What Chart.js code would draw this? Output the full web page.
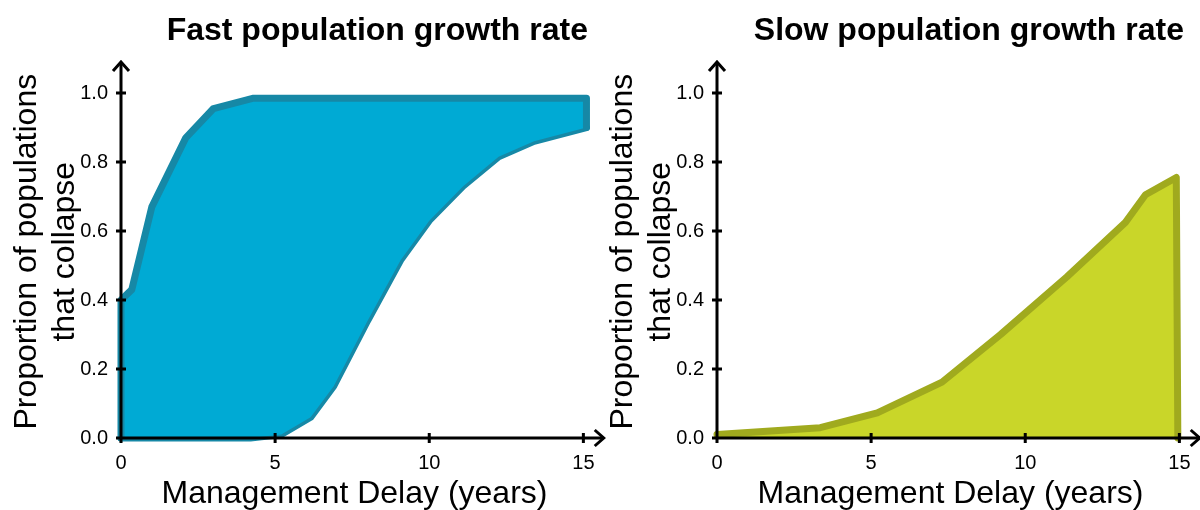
<!DOCTYPE html>
<html>
<head>
<meta charset="utf-8">
<script src="https://cdn.jsdelivr.net/npm/chart.js@4"></script>
<style>
  html, body { margin: 0; padding: 0; background: #fff; overflow: hidden; }
  #wrap { position: relative; width: 1200px; height: 510px; }
  canvas { position: absolute; top: 0; }
  #fastChart { left: 0; }
  #slowChart { left: 596px; }
</style>
</head>
<body>
<div id="wrap">
  <canvas id="fastChart" width="610" height="510"></canvas>
  <canvas id="slowChart" width="610" height="510"></canvas>
</div>
<script>
// management delay (years) / proportion of populations that collapse
const fastUpperX = [0, 0, 0.35, 1.0, 2.1, 3.0, 4.3, 15.1, 15.1]
const fastUpperY = [0, 0.40, 0.43, 0.67, 0.87, 0.955, 0.985, 0.985, 0.9]
const fastLowerX = [0, 4.2, 5.2, 6.15, 6.9, 8.0, 9.07, 10.0, 11.1, 12.25, 13.4, 15.1]
const fastLowerY = [0, 0, 0.01, 0.06, 0.15, 0.34, 0.515, 0.63, 0.73, 0.815, 0.86, 0.9]

const slowX = [0, 3.35, 5.2, 7.3, 9.2, 11.35, 13.25, 13.9, 14.9, 14.95]
const slowY = [0.01, 0.03, 0.073, 0.162, 0.30, 0.467, 0.625, 0.705, 0.755, 0]

const xTicks = [0, 5, 10, 15]
const yTicks = [0, 0.2, 0.4, 0.6, 0.8, 1.0]

const FONT = "'Liberation Sans', Arial, Helvetica, sans-serif"
const pts = (xs, ys) => xs.map((x, i) => ({x: x, y: ys[i]}))

// black axes with arrow heads and ticks that cross the axis line
const arrowAxes = {
    id: 'arrowAxes',
    afterDatasetsDraw(chart) {
        const {ctx} = chart
        const {x, y} = chart.scales
        const x0 = x.getPixelForValue(0), y0 = y.getPixelForValue(0)
        const xEnd = x.getPixelForValue(15.66), yEnd = y.getPixelForValue(1.09)
        ctx.save()
        ctx.strokeStyle = '#000'
        ctx.lineWidth = 3
        ctx.beginPath()
        ctx.moveTo(x0, yEnd)
        ctx.lineTo(x0, y0)
        ctx.lineTo(xEnd, y0)
        xTicks.forEach(v => {
            const p = x.getPixelForValue(v)
            ctx.moveTo(p, y0 - 5)
            ctx.lineTo(p, y0 + 5)
        })
        yTicks.forEach(v => {
            const p = y.getPixelForValue(v)
            ctx.moveTo(x0 - 5, p)
            ctx.lineTo(x0 + 5, p)
        })
        ctx.stroke()
        ctx.beginPath()
        ctx.moveTo(x0 - 8, yEnd + 9)
        ctx.lineTo(x0, yEnd)
        ctx.lineTo(x0 + 8, yEnd + 9)
        ctx.moveTo(xEnd - 9, y0 - 8)
        ctx.lineTo(xEnd, y0)
        ctx.lineTo(xEnd - 9, y0 + 8)
        ctx.stroke()
        ctx.restore()
    }
}

function makeChart(id, title, datasets) {
    return new Chart(document.getElementById(id), {
        type: 'scatter',
        data: {datasets: datasets},
        options: {
            responsive: false,
            animation: false,
            layout: {padding: {right: 22}},
            elements: {point: {radius: 0, hoverRadius: 0}},
            plugins: {
                legend: {display: false},
                tooltip: {enabled: false},
                title: {
                    display: true,
                    text: title,
                    align: 'end',
                    fullSize: false,
                    color: '#000',
                    font: {family: FONT, size: 32, weight: 'bold', lineHeight: 1.2},
                    padding: {top: 12, bottom: 15}
                }
            },
            scales: {
                x: {
                    type: 'linear',
                    min: 0,
                    max: 15.15,
                    afterBuildTicks: s => { s.ticks = xTicks.map(v => ({value: v})) },
                    afterFit: s => { s.height = 72 },
                    // invisible tick marks, only used to push the labels down
                    grid: {display: true, drawOnChartArea: false, drawTicks: true, tickLength: 10, color: 'rgba(0,0,0,0)'},
                    border: {display: false},
                    ticks: {color: '#000', padding: 3, font: {family: FONT, size: 20}, maxRotation: 0,
                        callback: v => String(v)},
                    title: {display: true, text: 'Management Delay (years)', color: '#000',
                        font: {family: FONT, size: 32, lineHeight: 1.0}, padding: {top: 0, bottom: 0}}
                },
                y: {
                    type: 'linear',
                    min: 0,
                    max: 1.08,
                    afterBuildTicks: s => { s.ticks = yTicks.map(v => ({value: v})) },
                    afterFit: s => { s.width = 121 },
                    grid: {display: false},
                    border: {display: false},
                    ticks: {color: '#000', padding: 5, font: {family: FONT, size: 20},
                        callback: v => v.toFixed(1)},
                    title: {display: true, text: ['Proportion of populations', 'that collapse'], color: '#000',
                        font: {family: FONT, size: 32, lineHeight: 1.19}, padding: {top: 8, bottom: 0}}
                }
            }
        },
        plugins: [arrowAxes]
    })
}

makeChart('fastChart', 'Fast population growth rate', [
    {
        label: 'upper',
        data: pts(fastUpperX, fastUpperY),
        showLine: true,
        tension: 0,
        borderColor: '#1688a6',
        backgroundColor: '#00aad4',
        borderWidth: 7,
        borderJoinStyle: 'round',
        borderCapStyle: 'round',
        fill: '+1',
        clip: false
    },
    {
        label: 'lower',
        data: pts(fastLowerX, fastLowerY),
        showLine: true,
        tension: 0,
        borderColor: '#1688a6',
        backgroundColor: '#00aad4',
        borderWidth: 7,
        borderJoinStyle: 'round',
        borderCapStyle: 'round',
        fill: false,
        clip: false
    }
])

makeChart('slowChart', 'Slow population growth rate', [
    {
        label: 'slow',
        data: pts(slowX, slowY),
        showLine: true,
        tension: 0,
        borderColor: '#a0aa1e',
        backgroundColor: '#c9d629',
        borderWidth: 7,
        borderJoinStyle: 'round',
        borderCapStyle: 'round',
        fill: 'origin',
        clip: false
    }
])
</script>
</body>
</html>
